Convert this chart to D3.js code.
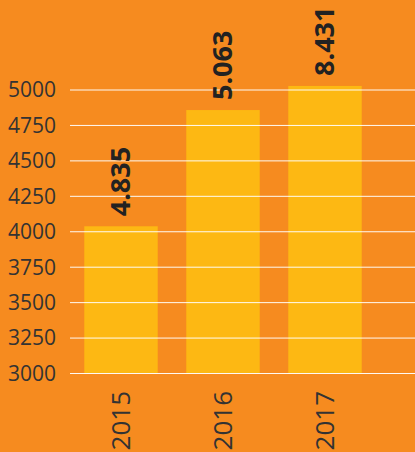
<!DOCTYPE html>
<html>
<head>
<meta charset="utf-8">
<script src="https://cdn.jsdelivr.net/npm/d3@7"></script>
<style>
  body { margin: 0; background: #f68b1f; }
  svg { display: block; font-family: "Open Sans", sans-serif; }
</style>
</head>
<body>
<script>
var years = ["2015", "2016", "2017"];
var values = [4035, 4855, 5025];
var labels = ["4.835", "5.063", "8.431"];
var ticks = [3000, 3250, 3500, 3750, 4000, 4250, 4500, 4750, 5000];

var width = 415, height = 452;

var svg = d3.select("body").append("svg")
  .attr("width", width)
  .attr("height", height);

svg.append("rect").attr("width", width).attr("height", height).attr("fill", "#f68b1f");

var x = d3.scaleBand().domain(years).range([70, 376]).paddingInner(0.28).paddingOuter(0.14);
var y = d3.scaleLinear().domain([3000, 5000]).range([373, 89.5]);

// bars
svg.selectAll(".bar")
  .data(years)
  .enter().append("rect")
  .attr("class", "bar")
  .attr("x", function(d) { return x(d); })
  .attr("width", x.bandwidth())
  .attr("y", function(d, i) { return y(values[i]); })
  .attr("height", function(d, i) { return y(3000) - y(values[i]); })
  .attr("fill", "#fdb813");

// gridlines over bars
var yAxis = d3.axisLeft(y).tickValues(ticks).tickFormat(d3.format("d"))
  .tickSize(-(width - 70)).tickPadding(14);
var gy = svg.append("g").attr("transform", "translate(70,0)").call(yAxis)
  .attr("font-family", "'Open Sans', sans-serif");
gy.select(".domain").remove();
gy.selectAll(".tick line").attr("stroke", "#fff").attr("stroke-width", 1).attr("opacity", 0.95);
gy.selectAll(".tick text")
  .attr("fill", "#333")
  .style("font-size", "21px")
  .attr("dy", "0.35em");

// year labels
svg.selectAll(".year")
  .data(years)
  .enter().append("text")
  .attr("class", "year")
  .attr("transform", function(d) { return "translate(" + (x(d) + x.bandwidth() / 2) + ",391) rotate(-90)"; })
  .attr("text-anchor", "end")
  .attr("dy", "0.35em")
  .attr("fill", "#333")
  .style("font-size", "26px")
  .text(function(d) { return d; });

// value labels
svg.selectAll(".val")
  .data(years)
  .enter().append("text")
  .attr("class", "val")
  .attr("transform", function(d, i) { return "translate(" + (x(d) + x.bandwidth() / 2) + "," + (y(values[i]) - 10) + ") rotate(-90)"; })
  .attr("text-anchor", "start")
  .attr("dy", "0.35em")
  .attr("fill", "#222")
  .style("font-size", "27px")
  .style("font-weight", "bold")
  .text(function(d, i) { return labels[i]; });
</script>
</body>
</html>
